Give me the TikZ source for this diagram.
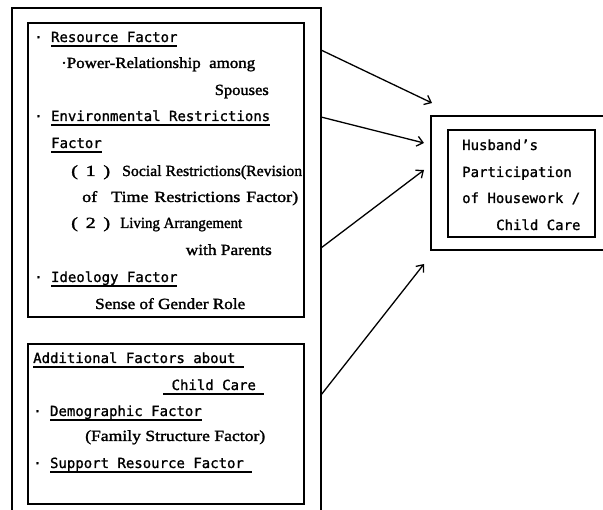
\documentclass[tikz,border=0pt]{standalone}
\usepackage{fontspec}
\usepackage{graphicx}
\usetikzlibrary{arrows.meta}
\newfontfamily\goth[FakeBold=1.2]{DejaVu Sans Mono}
\newfontfamily\minc[FakeBold=1.6]{Liberation Serif}
\newsavebox\ulbox
\newsavebox\fitbox
\newcommand\ul[1]{\sbox\ulbox{#1}\rlap{\rule[-4.6pt]{\wd\ulbox}{1.2pt}}\usebox\ulbox}
\newcommand\fitw[2]{\sbox\fitbox{#2}\pgfmathsetmacro\myfx{#1/\wd\fitbox}\scalebox{\myfx}[1]{\usebox\fitbox}}
\tikzset{
  boxstyle/.style={draw, line width=1.1pt, anchor=north west, inner sep=0pt, outer sep=0pt},
  gt/.style={font=\goth\fontsize{14}{16}\selectfont, anchor=base west, inner sep=0pt},
  mt/.style={font=\minc\fontsize{15.5}{17}\selectfont, anchor=base west, inner sep=0pt},
  mte/.style={font=\minc\fontsize{15.5}{17}\selectfont, anchor=base east, inner sep=0pt},
  arr/.style={line width=1.3pt, -{Straight Barb[length=6pt,width=10pt]}}
}
\begin{document}
\begin{tikzpicture}[x=1pt,y=-1pt]
\useasboundingbox (0,0) rectangle (603,510);
\clip (0,0) rectangle (603,510);
\fill[white] (0,0) rectangle (603,510);
% frames
\node[boxstyle, minimum width=309pt, minimum height=520pt] (outerL) at (12,8) {};
\node[boxstyle, minimum width=276pt, minimum height=294pt] (box1) at (28,23) {};
\node[boxstyle, minimum width=276pt, minimum height=160pt] (box2) at (28,344) {};
\node[boxstyle, minimum width=190pt, minimum height=134pt] (outerR) at (431,116) {};
\node[boxstyle, minimum width=147pt, minimum height=107pt] (target) at (448,130) {};
% box 1 texts
\node[gt] (t1) at (34,42) {·\ \ul{Resource Factor}};
\node[mt] (t2) at (61,68) {\fitw{194}{\textperiodcentered Power-Relationship\ \ among}};
\node[mte] (t3) at (269,95) {\fitw{54}{Spouses}};
\node[gt] (t4) at (34,121) {·\ \ul{Environmental Restrictions}};
\node[gt] (t5) at (51,148) {\ul{Factor}};
\node[mt] (t6a) at (71,176) {\fitw{39}{(\hspace{6pt}1\hspace{6pt})}};
\node[mt] (t6b) at (122,176) {\fitw{180}{Social Restrictions(Revision}};
\node[mt] (t7) at (82,202) {\fitw{216}{of\hspace{12pt}Time\hspace{5pt}Restrictions\hspace{5pt}Factor)}};
\node[mt] (t8a) at (71,228) {\fitw{39}{(\hspace{6pt}2\hspace{6pt})}};
\node[mt] (t8b) at (120,228) {\fitw{122}{Living Arrangement}};
\node[mte] (t9) at (272,255) {\fitw{86}{with Parents}};
\node[gt] (t10) at (34,282) {·\ \ul{Ideology Factor}};
\node[mt] (t11) at (95,309) {\fitw{150}{Sense of Gender Role}};
% box 2 texts
\node[gt] (u1) at (33,363) {\ul{Additional Factors about\ }};
\node[gt] (u2) at (163,390) {\ul{\ Child Care\ }};
\node[gt] (u3) at (33,416) {·\ \ul{Demographic Factor}};
\node[mt] (u4) at (85,441) {\fitw{180}{(Family Structure Factor)}};
\node[gt] (u5) at (33,468) {·\ \ul{Support Resource Factor\ }};
% target texts
\node[gt] (h1) at (462,150) {Husband’s};
\node[gt] (h2) at (462,177) {Participation};
\node[gt] (h3) at (462,203) {of Housework /};
\node[gt] (h4) at (496,230) {Child Care};
% arrows
\coordinate (s1) at (321,50);  \coordinate (e1) at (432,103);
\coordinate (s2) at (321,117); \coordinate (e2) at (424,143);
\coordinate (s3) at (321,248); \coordinate (e3) at (424,170);
\coordinate (s4) at (321,395); \coordinate (e4) at (424,264);
\draw[arr] (s1) -- (e1);
\draw[arr] (s2) -- (e2);
\draw[arr] (s3) -- (e3);
\draw[arr] (s4) -- (e4);
\end{tikzpicture}
\end{document}
